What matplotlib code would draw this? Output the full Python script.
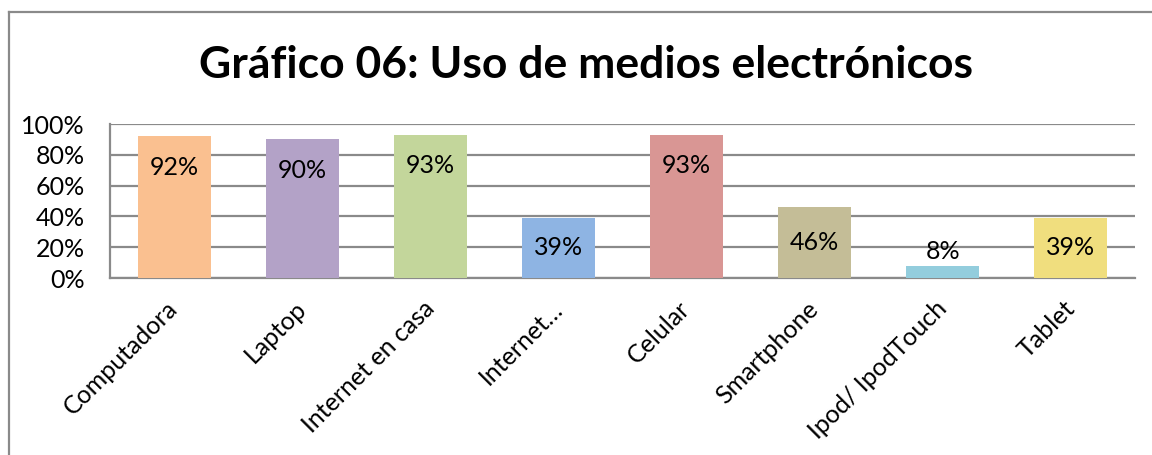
import matplotlib
matplotlib.use("Agg")
import matplotlib.pyplot as plt
from matplotlib.lines import Line2D
import matplotlib.transforms as mtransforms

categories = ["Computadora", "Laptop", "Internet en casa", "Internet…", "Celular",
              "Smartphone", "Ipod/ IpodTouch", "Tablet"]
values = [0.92, 0.90, 0.93, 0.39, 0.93, 0.46, 0.08, 0.39]
labels = ["92%", "90%", "93%", "39%", "93%", "46%", "8%", "39%"]
colors = ["#FAC090", "#B3A2C7", "#C3D69B", "#8EB4E3", "#D99694", "#C4BD97", "#93CDDD", "#F0DE7E"]
yticks = [0, 0.2, 0.4, 0.6, 0.8, 1.0]
yticklabels = ["0%", "20%", "40%", "60%", "80%", "100%"]
title = "Gráfico 06: Uso de medios electrónicos"

plt.rcParams['font.family'] = ['Lato', 'DejaVu Sans']

W, H = 1152, 455
fig = plt.figure(figsize=(W/100, H/100), dpi=100)
ax = fig.add_axes([110/W, 1-278/H, (1135-110)/W, (278-124)/H])

x = list(range(len(categories)))
ax.bar(x, values, width=0.57, color=colors, zorder=3)
ax.set_xlim(-0.5, len(categories)-0.5)
ax.set_ylim(0, 1.0)
ax.set_yticks(yticks)
ax.set_yticklabels(yticklabels, fontsize=18)
ax.tick_params(axis='y', length=0, pad=18)
ax.tick_params(axis='x', length=0, pad=2)
ax.set_xticks(x)
ax.set_xticklabels(categories, rotation=45, ha='right', rotation_mode='anchor', fontsize=18)
offset = mtransforms.ScaledTranslation(-8/100, -16/100, fig.dpi_scale_trans)
for lab in ax.get_xticklabels():
    lab.set_transform(lab.get_transform() + offset)

ax.grid(axis='y', color='#8A8A8A', linewidth=1.6, zorder=0)
for s in ['top', 'right']:
    ax.spines[s].set_visible(False)
ax.spines['left'].set_color('#8A8A8A')
ax.spines['left'].set_linewidth(1.6)
ax.spines['bottom'].set_color('#8A8A8A')
ax.spines['bottom'].set_linewidth(1.6)

for xi, v, lab in zip(x, values, labels):
    if v >= 0.8:
        ax.annotate(lab, (xi, v), xytext=(0, -31), textcoords='offset pixels',
                    ha='center', va='center', fontsize=18, zorder=4)
    elif v >= 0.2:
        ax.annotate(lab, (xi, v/2), ha='center', va='center', fontsize=18, zorder=4)
    else:
        ax.annotate(lab, (xi, v), xytext=(0, 14), textcoords='offset pixels',
                    ha='center', va='center', fontsize=18, zorder=4)

fig.text(586/W, 1-65/H, title, ha='center', va='center', fontsize=32, fontweight='bold')

fig.add_artist(Line2D([9/W, 9/W], [1-12/H, 0], transform=fig.transFigure, color='#8A8A8A', linewidth=1.6))
fig.add_artist(Line2D([9/W, 1], [1-12/H, 1-12/H], transform=fig.transFigure, color='#8A8A8A', linewidth=1.6))

fig.savefig("out.png", dpi=100, facecolor='white')
